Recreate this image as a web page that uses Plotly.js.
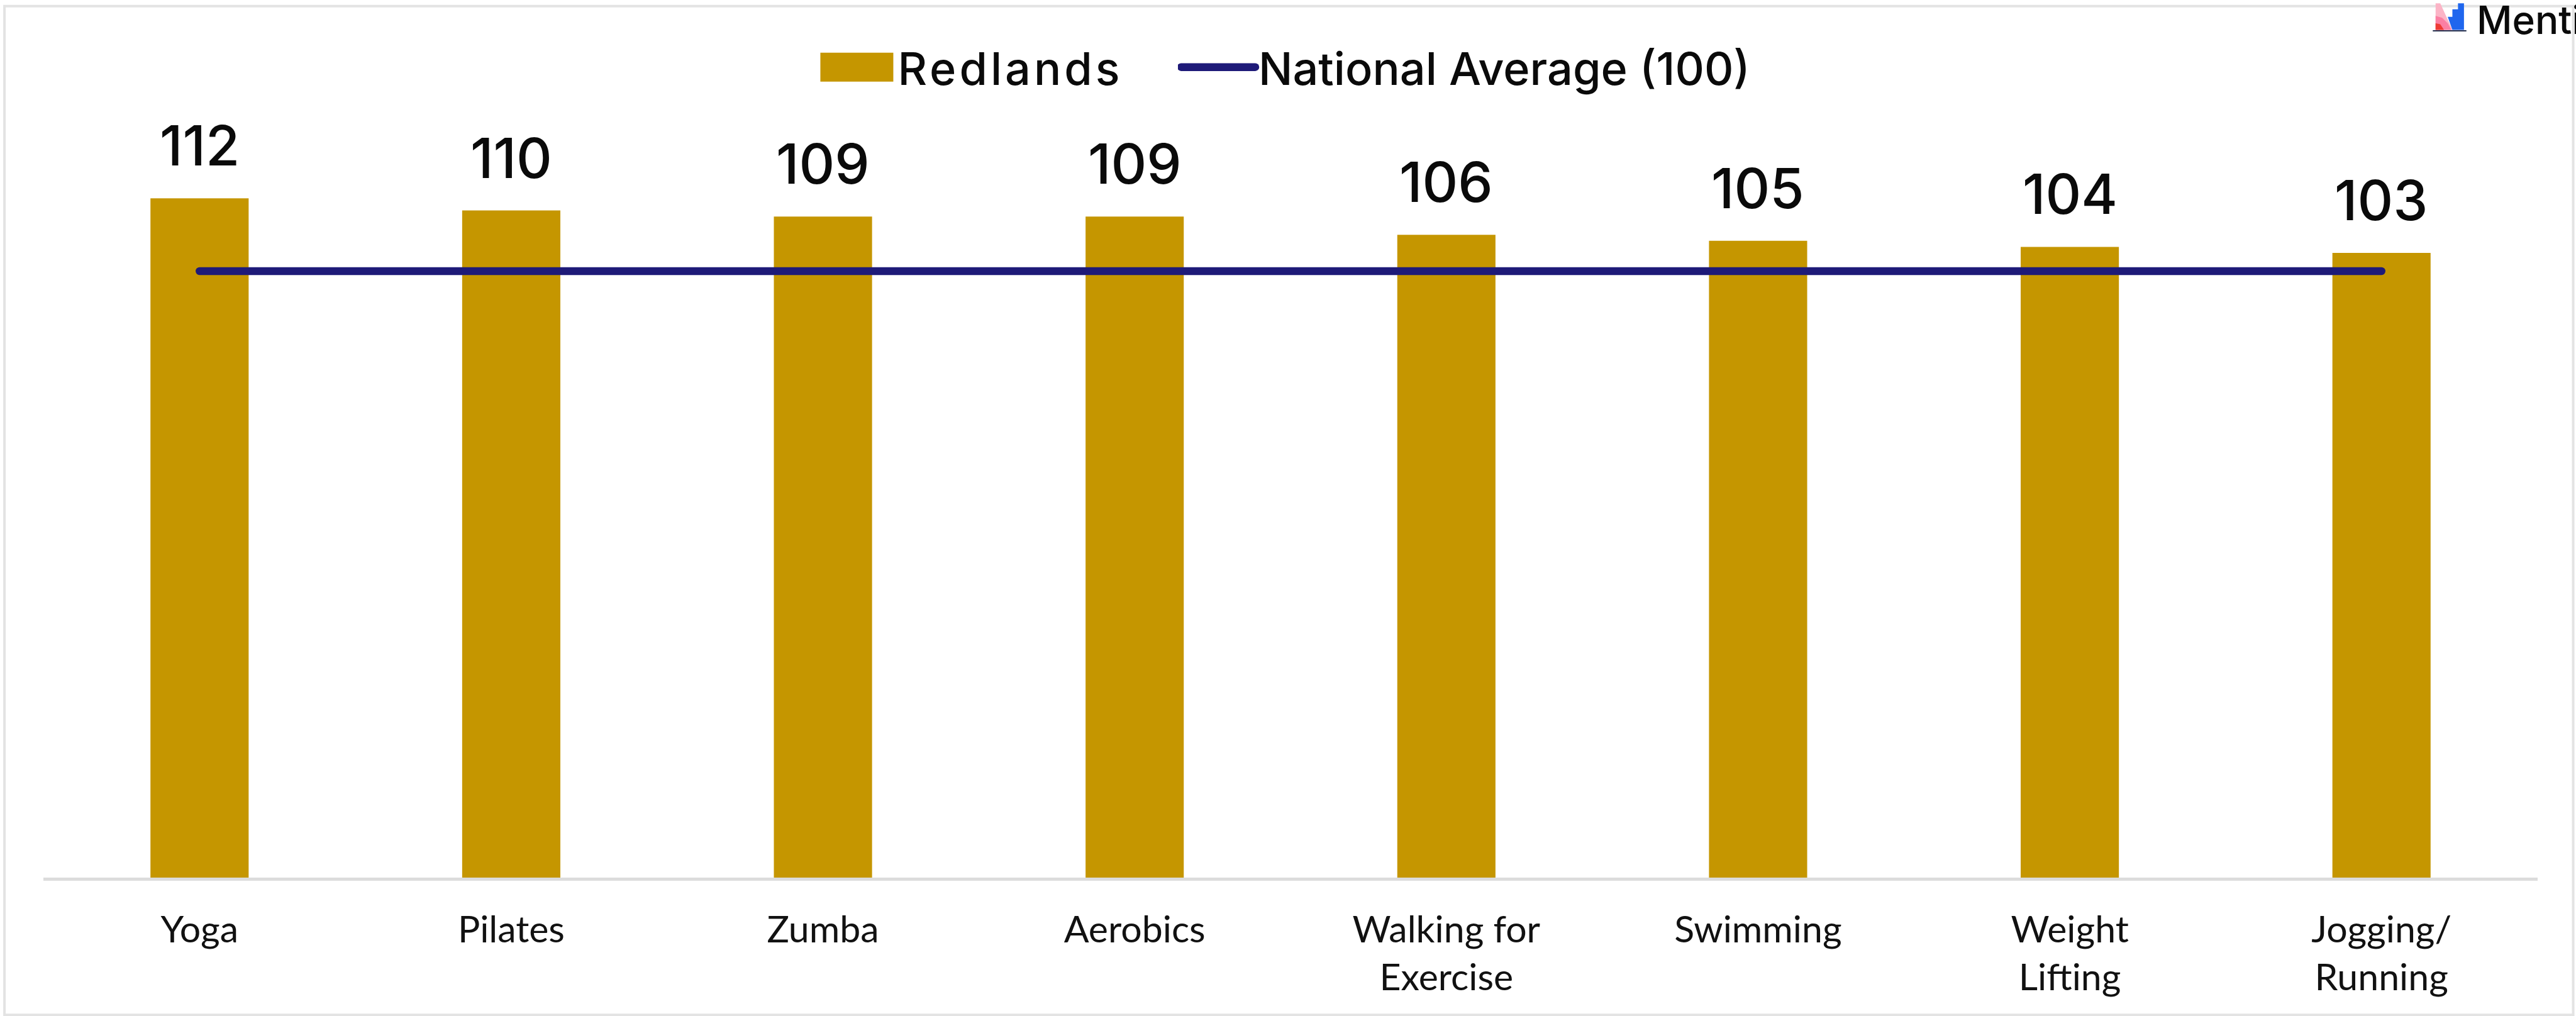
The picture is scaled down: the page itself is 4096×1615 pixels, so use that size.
<!DOCTYPE html>
<html>
<head>
<meta charset="utf-8">
<script src="https://cdn.plot.ly/plotly-3.0.1.min.js"></script>
<style>
html,body{margin:0;padding:0;background:#fff;overflow:hidden}
#chart{width:4096px;height:1615px}
.js-line{stroke-linecap:round}
.legendtext{letter-spacing:5px}
.legendpoints path{d:path("M0,-23H116V23H0Z");transform:translate(5px,0)}
.legendlines path{stroke-width:12.5px !important}
</style>
</head>
<body>
<div id="chart"></div>
<script>
const categories = ["Yoga","Pilates","Zumba","Aerobics","Walking for<br>Exercise","Swimming","Weight<br>Lifting","Jogging/<br>Running"];
const redlands = [112,110,109,109,106,105,104,103];
const nationalAverage = [100,100,100,100,100,100,100,100];
const seriesNames = ["Redlands","National Average (100)"];

const W = 4096, H = 1615, REFW = 4599, REFH = 1813;
const px = x => x / REFW;
const py = y => 1 - y / REFH;
function poly(pts, color) {
  const d = pts.map((p,i) => (i ? "L" : "M") + px(4200 + p[0]/3) + "," + py(p[1]/3)).join("") + "Z";
  return {type:"path", xref:"paper", yref:"paper", path:d, fillcolor:color, line:{width:0}, layer:"above"};
}
const frame = {type:"rect", xref:"paper", yref:"paper", x0:px(8), x1:px(4594), y0:py(1811), y1:py(11), line:{color:"#e3e3e3", width:4}, fillcolor:"rgba(0,0,0,0)", layer:"below"};
const logo = [
  poly([[445,18],[470,18],[535,160],[445,160]], "#fbb4c6"),
  poly([[445,85],[480,95],[510,125],[530,160],[445,160]], "#fb7fa3"),
  poly([[445,125],[470,130],[490,160],[445,160]], "#ee3b34"),
  poly([[510,90],[535,90],[535,50],[565,50],[565,18],[597,18],[597,160],[535,160]], "#1f66ee"),
  poly([[430,162],[610,162],[610,168],[430,168]], "#26304f")
];

const labels = redlands.map((v,i) => ({
  x:i, y:v, xref:"x", yref:"y", text:String(v), showarrow:false, yanchor:"bottom", yshift:29,
  font:{family:"Inter", size:88, weight:500, color:"#0a0a0a"}
}));
labels.push({xref:"paper", yref:"paper", x:px(4421), y:py(-8), xanchor:"left", yanchor:"top", text:"Menti", showarrow:false,
  font:{family:"Inter", size:62, weight:500, color:"#0a0a0a"}, borderpad:0});

const xs = categories.map((_,i)=>i);
const traces = [
  {type:"bar", x:xs, y:redlands, name:seriesNames[0], width:0.315, marker:{color:"#C59600"}, legend:"legend"},
  {type:"scatter", mode:"lines", x:xs, y:nationalAverage, name:seriesNames[1], line:{color:"#1E1A78", width:12.5}, legend:"legend2"}
];
const legendBase = {orientation:"h", yanchor:"middle", xanchor:"left", itemwidth:118,
  font:{family:"Inter", size:72, weight:500, color:"#0a0a0a"}, bgcolor:"rgba(0,0,0,0)", itemclick:false, itemdoubleclick:false};

const layout = {
  width:W, height:H, margin:{l:0,r:0,t:0,b:0,pad:0}, paper_bgcolor:"#fff", plot_bgcolor:"#fff",
  showlegend:true,
  legend:Object.assign({}, legendBase, {x:px(1459), y:py(120)}),
  legend2:Object.assign({}, legendBase, {x:px(2103), y:py(120)}),
  xaxis:{domain:[px(78),px(4530)], range:[-0.5,7.5], tickmode:"array", tickvals:xs, ticktext:categories,
    showgrid:false, zeroline:false, showline:true, linecolor:"#dcdcdc", linewidth:5, ticks:"", layer:"below traces", ticklabelstandoff:27,
    tickfont:{family:"Lato", size:59, color:"#111"}},
  yaxis:{domain:[py(1566),py(51)], range:[0,140], visible:false, showgrid:false, zeroline:false},
  annotations:labels,
  shapes:[frame].concat(logo)
};

Plotly.newPlot("chart", traces, layout, {displayModeBar:false});
</script>
</body>
</html>
